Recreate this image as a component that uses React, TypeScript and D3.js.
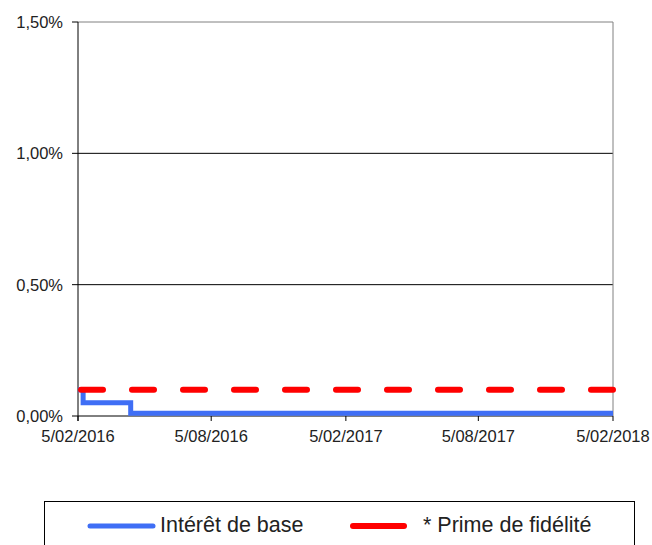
import React from "react";
import * as d3 from "d3";

const xTicks = ["2016-02-05", "2016-08-05", "2017-02-05", "2017-08-05", "2018-02-05"];
const yTicks = [0, 0.005, 0.01, 0.015];
const baseDates = ["2016-02-05", "2016-02-12", "2016-04-17", "2018-02-05"];
const baseValues = [0.001, 0.0005, 0.0001, 0.0001];
const primeDates = ["2016-02-05", "2018-02-05"];
const primeValues = [0.001, 0.001];

const W = 652, H = 545;
const L = 78, R = 613, T = 22, B = 416;

export default function App() {
  const parse = d3.timeParse("%Y-%m-%d");
  const x = d3.scaleTime().domain([parse(xTicks[0])!, parse(xTicks[4])!]).range([L, R]);
  const y = d3.scaleLinear().domain([0, 0.015]).range([B, T]);
  const fmtX = d3.timeFormat("%-d/%m/%Y");
  const fmtY = (v: number) => (v * 100).toFixed(2).replace(".", ",") + "%";

  const baseLine = d3.line<[Date, number]>().x(d => x(d[0])).y(d => y(d[1])).curve(d3.curveStepAfter);
  const basePts: [Date, number][] = baseDates.map((d, i) => [parse(d)!, baseValues[i]]);
  const primePts: [Date, number][] = primeDates.map((d, i) => [parse(d)!, primeValues[i]]);
  const primeLine = d3.line<[Date, number]>().x(d => x(d[0])).y(d => y(d[1]));
  const font = "Liberation Sans, Arial, sans-serif";

  return (
    <svg width={W} height={H} style={{ position: "absolute", left: 0, top: 0 }} fontFamily={font}>
      <rect x={0} y={0} width={W} height={H} fill="#fff" />
      {yTicks.map((t, i) => (
        <g key={i}>
          {t > 0 && <line x1={L} x2={R} y1={y(t)} y2={y(t)} stroke={i === 3 ? "#808080" : "#000"} strokeWidth={1} />}
          <line x1={L - 6} x2={L} y1={y(t)} y2={y(t)} stroke="#000" />
          <text x={63} y={y(t) + 6} textAnchor="end" fontSize={16.5} fill="#222">{fmtY(t)}</text>
        </g>
      ))}
      <line x1={R} x2={R} y1={T} y2={B} stroke="#808080" />
      <line x1={L} x2={L} y1={T} y2={B + 5} stroke="#000" />
      <line x1={L} x2={R} y1={B} y2={B} stroke="#000" />
      {xTicks.map((t, i) => (
        <g key={i}>
          <line x1={x(parse(t)!)} x2={x(parse(t)!)} y1={B} y2={B + 5} stroke="#000" />
          <text x={x(parse(t)!)} y={B + 26} textAnchor="middle" fontSize={16.5} fill="#222">{fmtX(parse(t)!)}</text>
        </g>
      ))}
      <path d={baseLine(basePts)!} fill="none" stroke="#3f6ef5" strokeWidth={5} />
      <path d={primeLine(primePts)!} fill="none" stroke="#ff0000" strokeWidth={6} strokeLinecap="round" strokeDasharray="22 29" transform="translate(3,0)" />
      <rect x={44.5} y={501.5} width={590} height={60} fill="none" stroke="#000" />
      <line x1={90} x2={153} y1={526} y2={526} stroke="#3f6ef5" strokeWidth={5} strokeLinecap="round" />
      <text x={160} y={532} fontSize={21.5} fill="#222">Intérêt de base</text>
      <line x1={353} x2={404} y1={526} y2={526} stroke="#ff0000" strokeWidth={6} strokeLinecap="round" />
      <text x={423} y={532} fontSize={21.5} fill="#222">* Prime de fidélité</text>
    </svg>
  );
}
